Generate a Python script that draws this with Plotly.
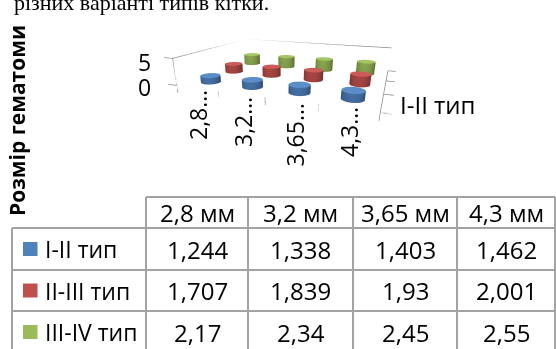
import numpy as np
import plotly.graph_objects as go

# ---------------- data ----------------
categories = ["2,8 мм", "3,2 мм", "3,65 мм", "4,3 мм"]
cat_tick_labels = ["2,8…", "3,2…", "3,65…", "4,3…"]
series_names = ["I-II тип", "II-III тип", "III-IV тип"]
series_1 = [1.244, 1.338, 1.403, 1.462]
series_2 = [1.707, 1.839, 1.93, 2.001]
series_3 = [2.17, 2.34, 2.45, 2.55]
z_tick_values = [0, 5]
axis_title = "Розмір гематоми"
caption_text = "різних варіанті типів кітки."

series_values = [series_1, series_2, series_3]
colors = ["#4F81BD", "#C0504D", "#9BBB59"]

W, H = 556, 349
FONT = "Open Sans"
TABLE_SIZE = 24
WEIGHT = 500


def px(x):
    return x / W


def py(y):
    return 1 - y / H


def fmt(v):
    return str(v).replace(".", ",")


def tfont(size):
    return dict(family=FONT, size=size, color="#000", weight=WEIGHT)


# ---------------- 3D cylinders ----------------
RX = 0.21                 # radius in category units
KX, KY = 0.25, 0.24507    # normalized length per unit (x, y)
RY = RX * KX / KY


def cylinders(values, yc, n=48):
    xs, ys, zs, I, J, K = [], [], [], [], [], []
    t = np.linspace(0, 2 * np.pi, n, endpoint=False)
    for xc, h in enumerate(values):
        base = len(xs)
        cx = xc + RX * np.cos(t)
        cy = yc + RY * np.sin(t)
        xs += list(cx) + list(cx)
        ys += list(cy) + list(cy)
        zs += [0.0] * n + [h] * n
        for a in range(n):
            b = (a + 1) % n
            I += [base + a, base + b]
            J += [base + b, base + n + b]
            K += [base + n + a, base + n + a]
        cbase = len(xs)
        xs += [xc] + list(cx)
        ys += [yc] + list(cy)
        zs += [h] * (n + 1)
        for a in range(n):
            b = (a + 1) % n
            I.append(cbase)
            J.append(cbase + 1 + a)
            K.append(cbase + 1 + b)
    return xs, ys, zs, I, J, K


fig = go.Figure()

for si, (vals, col) in enumerate(zip(series_values, colors)):
    xs, ys, zs, I, J, K = cylinders(vals, si)
    fig.add_trace(go.Mesh3d(
        x=xs, y=ys, z=zs, i=I, j=J, k=K,
        color=col, flatshading=False, hoverinfo="skip",
        lighting=dict(ambient=0.55, diffuse=0.65, specular=0.35,
                      roughness=0.45, fresnel=0.2),
        lightposition=dict(x=-40000, y=-90000, z=100000),
        showscale=False,
    ))

# frame lines (value gridline at max on walls, axes on floor)
x0, x1 = -0.5, len(categories) - 0.5
y0, y1 = -0.5, len(series_names) - 0.5
z0, z1 = z_tick_values[0], z_tick_values[-1]
nan = None
lx = [x0, x0, x0, x1, nan, x0, x1, x1]
ly = [y0, y0, y1, y1, nan, y0, y0, y1]
lz = [z0, z1, z1, z1, nan, z0, z0, z0]
for zt in z_tick_values:
    lx += [nan, x0, x0 - 0.22]
    ly += [nan, y0, y0]
    lz += [nan, zt, zt]
for k in range(len(categories) + 1):
    xb = k - 0.5
    lx += [nan, xb, xb]
    ly += [nan, y0, y0]
    lz += [nan, z0, z0 - 1.4]
for k in range(len(series_names) + 1):
    yb = k - 0.5
    lx += [nan, x1, x1 + 0.18]
    ly += [nan, yb, yb]
    lz += [nan, z0, z0]

fig.add_trace(go.Scatter3d(
    x=lx, y=ly, z=lz, mode="lines", connectgaps=False,
    line=dict(color="#8c8c8c", width=1.5), hoverinfo="skip",
))

scene = dict(
    domain=dict(x=[px(80), px(480)], y=[py(235.25), py(4.75)]),
    xaxis=dict(range=[-0.75, 3.75], visible=False),
    yaxis=dict(range=[-0.5, 2.5], visible=False),
    zaxis=dict(range=[-1.5, 5], visible=False),
    aspectmode="manual",
    aspectratio=dict(x=1.125, y=0.7352, z=0.18075),
    camera=dict(
        eye=dict(x=0.5092, y=-1.4624, z=0.3683),
        center=dict(x=0.0020, y=-0.1878, z=-0.2385),
        up=dict(x=0, y=0, z=1),
        projection=dict(type="perspective"),
    ),
    bgcolor="rgba(0,0,0,0)",
)

annotations = []
shapes = []

annotations.append(dict(
    x=px(12), y=py(2.8), xref="paper", yref="paper", xanchor="left", yanchor="middle",
    text=caption_text, showarrow=False,
    font=dict(family="Liberation Serif", size=22, color="#000"),
))

annotations.append(dict(
    x=px(17), y=py(121), xref="paper", yref="paper", xanchor="center", yanchor="middle",
    text="<b>" + axis_title + "</b>", textangle=-90, showarrow=False,
    font=dict(family=FONT, size=21, color="#000"),
))

for zt, yy in zip(z_tick_values, [87, 62]):
    annotations.append(dict(
        x=px(153), y=py(yy), xref="paper", yref="paper", xanchor="right", yanchor="middle",
        text=str(zt), showarrow=False, font=tfont(23),
    ))

cat_label_pos = [(198, 88), (243, 95), (294, 102), (349, 105)]
for lab, (cx, top) in zip(cat_tick_labels, cat_label_pos):
    annotations.append(dict(
        x=px(cx), y=py(top), xref="paper", yref="paper", xanchor="center", yanchor="top",
        text=lab, textangle=-90, showarrow=False, font=tfont(23),
    ))

annotations.append(dict(
    x=px(398), y=py(104), xref="paper", yref="paper", xanchor="left", yanchor="middle",
    text=series_names[0], showarrow=False, font=tfont(TABLE_SIZE),
))

# ---------------- data table ----------------
col_edges = [146, 248, 353, 457, 555]
row_edges = [197, 228, 270, 311, 353]
left_edge = 12
grid = dict(color="#a3a3a3", width=2)

for xe in col_edges:
    shapes.append(dict(type="line", xref="paper", yref="paper",
                       x0=px(xe), x1=px(xe), y0=py(row_edges[0]), y1=py(row_edges[-1]), line=grid))
shapes.append(dict(type="line", xref="paper", yref="paper",
                   x0=px(left_edge), x1=px(left_edge), y0=py(row_edges[1]), y1=py(row_edges[-1]), line=grid))
shapes.append(dict(type="line", xref="paper", yref="paper",
                   x0=px(col_edges[0]), x1=px(col_edges[-1]), y0=py(row_edges[0]), y1=py(row_edges[0]), line=grid))
for ye in row_edges[1:]:
    shapes.append(dict(type="line", xref="paper", yref="paper",
                       x0=px(left_edge), x1=px(col_edges[-1]), y0=py(ye), y1=py(ye), line=grid))

col_centers = [(col_edges[i] + col_edges[i + 1]) / 2 for i in range(len(categories))]
row_centers = [(row_edges[i] + row_edges[i + 1]) / 2 for i in range(len(row_edges) - 1)]

for c, cat in zip(col_centers, categories):
    annotations.append(dict(
        x=px(c), y=py(row_centers[0]), xref="paper", yref="paper",
        xanchor="center", yanchor="middle", text=cat, showarrow=False,
        font=tfont(TABLE_SIZE),
    ))

for r, (name, vals, col) in enumerate(zip(series_names, series_values, colors)):
    yc = row_centers[r + 1]
    shapes.append(dict(type="rect", xref="paper", yref="paper",
                       x0=px(23), x1=px(37.5), y0=py(yc + 7), y1=py(yc - 7),
                       fillcolor=col, line=dict(width=0)))
    annotations.append(dict(
        x=px(43), y=py(yc), xref="paper", yref="paper", xanchor="left", yanchor="middle",
        text=name, showarrow=False, font=tfont(23),
    ))
    for c, v in zip(col_centers, vals):
        annotations.append(dict(
            x=px(c), y=py(yc), xref="paper", yref="paper", xanchor="center", yanchor="middle",
            text=fmt(v), showarrow=False, font=tfont(TABLE_SIZE),
        ))

fig.update_layout(
    width=W, height=H, margin=dict(l=0, r=0, t=0, b=0),
    paper_bgcolor="white", plot_bgcolor="white",
    showlegend=False, scene=scene,
    annotations=annotations, shapes=shapes,
)

fig.write_html("out.html")
